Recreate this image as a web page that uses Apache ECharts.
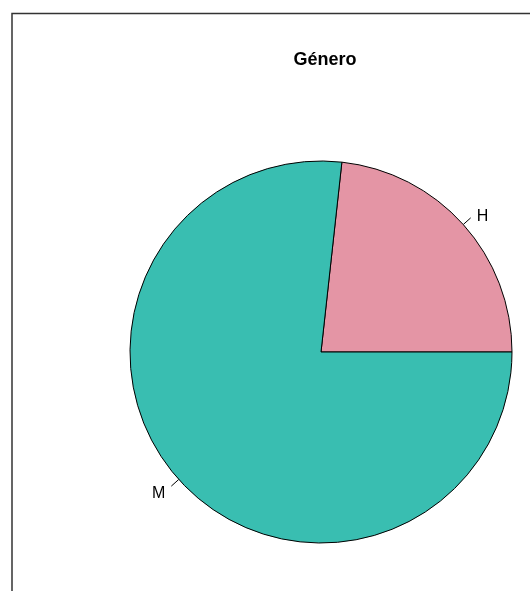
<!DOCTYPE html>
<html>
<head>
<meta charset="utf-8">
<script src="https://cdn.jsdelivr.net/npm/echarts@6/dist/echarts.min.js"></script>
<style>
html,body{margin:0;padding:0;background:#fff;}
#c{width:530px;height:591px;}
</style>
</head>
<body>
<div id="c"></div>
<script>
const categories = ["H", "M"];
const values = [10, 33];
const colors = ["#E495A5", "#39BEB1"];
const titleText = "Género";

const chart = echarts.init(document.getElementById('c'), null, {renderer: 'canvas'});
chart.setOption({
  animation: false,
  backgroundColor: '#ffffff',
  title: {
    text: titleText,
    left: 320, top: 46,
    textAlign: 'center',
    textStyle: {fontFamily: 'Liberation Sans, Arial, sans-serif', fontWeight: 'bold', fontSize: 18, color: '#000'}
  },
  graphic: [{
    type: 'polyline',
    shape: {points: [[12, 600], [12, 13.5], [540, 13.5]]},
    style: {stroke: '#333', lineWidth: 1.5, fill: null},
    silent: true
  }],
  series: [{
    type: 'pie',
    center: [321, 352],
    radius: [0, 191],
    startAngle: 0,
    clockwise: false,
    avoidLabelOverlap: false,
    data: categories.map((c, i) => ({
      name: c, value: values[i], itemStyle: {color: colors[i]},
      label: {offset: i === 0 ? [0, -1] : [0, 7]}
    })),
    itemStyle: {borderColor: '#000', borderWidth: 1},
    label: {
      show: true, position: 'outside', formatter: '{b}',
      fontFamily: 'Liberation Sans, Arial, sans-serif', fontSize: 16, color: '#000',
      distanceToLabelLine: 6
    },
    labelLine: {show: true, length: 10, length2: 0, smooth: false, lineStyle: {color: '#000', width: 1}},
    emphasis: {disabled: true}
  }]
});
</script>
</body>
</html>
